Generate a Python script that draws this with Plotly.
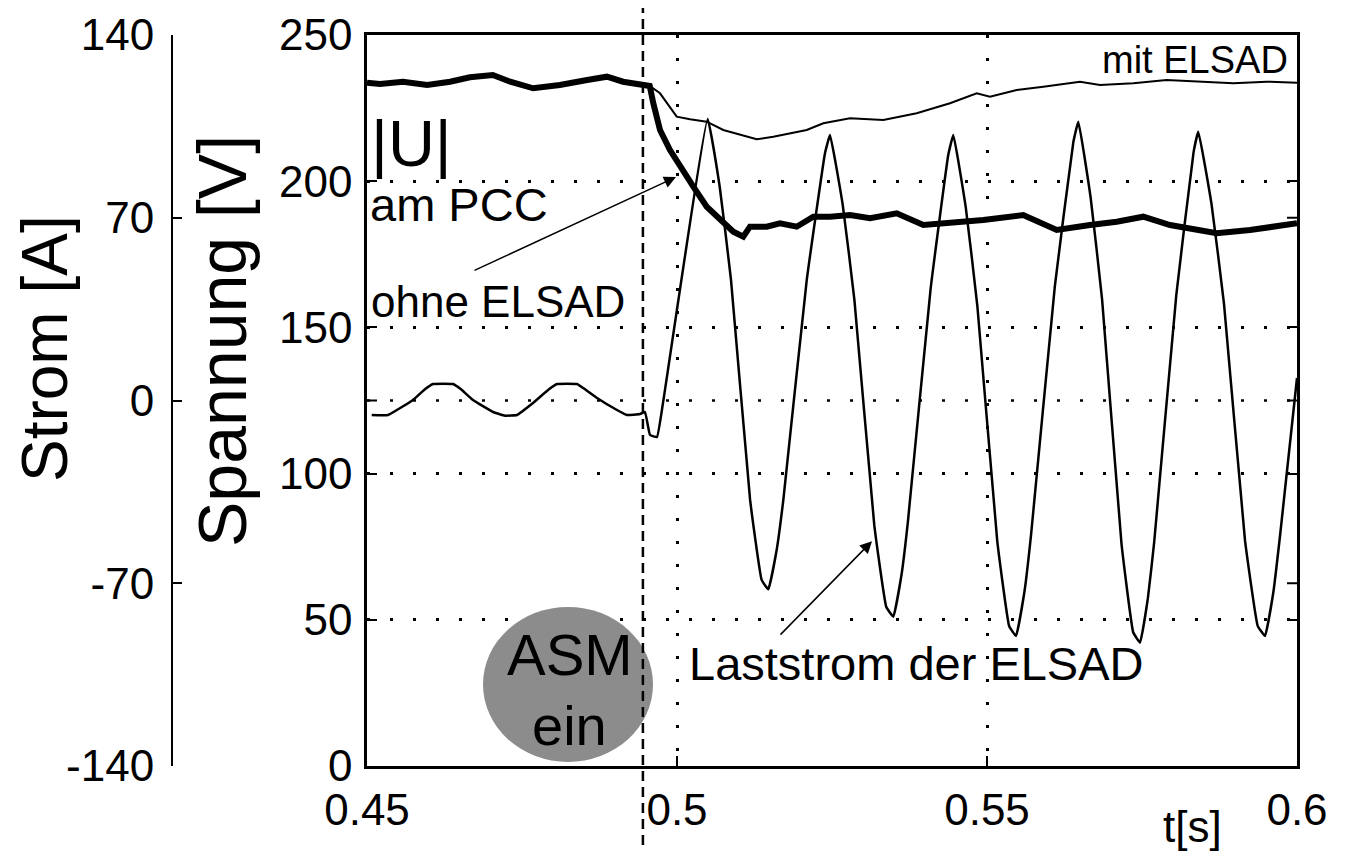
import plotly.graph_objects as go

# ---------------- data ----------------
# Load current of the ELSAD (A), left "Strom" axis
t_current = [0.45076, 0.45339, 0.45742, 0.45935, 0.46065, 0.46387, 0.46516, 0.46710, 0.47032, 0.47226, 0.47419,
             0.47677, 0.47935, 0.48065, 0.48387, 0.48516, 0.48710, 0.49032, 0.49194, 0.49403, 0.49484, 0.49565,
             0.49677, 0.49774,
             0.50495, 0.50690, 0.50871, 0.51179, 0.51365, 0.51473,
             0.51608, 0.51715, 0.52092, 0.52387, 0.52468,
             0.52673, 0.52861, 0.53182, 0.53376, 0.53489,
             0.53621, 0.53724, 0.54090, 0.54377, 0.54457,
             0.54658, 0.54845, 0.55165, 0.55357, 0.55468,
             0.55605, 0.55711, 0.56094, 0.56392, 0.56473,
             0.56671, 0.56857, 0.57169, 0.57358, 0.57468,
             0.57595, 0.57697, 0.58053, 0.58332, 0.58408,
             0.58623, 0.58823, 0.59161, 0.59366, 0.59484,
             0.59619, 0.59726, 0.60000]
i_current = [-5.55, -5.55, 0.19, 4.3, 6.32, 6.32, 4.3, 0.19, -4.40, -5.82, -5.55,
             -0.96, 4.3, 6.32, 6.32, 4.3, 0.96, -3.64, -5.55, -5.17, -4.40, -13.21,
             -13.98, -0.96,
             107.81, 81.69, 46.23, -38.07, -68.71, -72.31,
             -57.18, -38.03, 46.00, 94.71, 101.69,
             74.95, 38.61, -47.76, -79.13, -82.80,
             -66.76, -46.46, 42.67, 94.29, 101.69,
             73.88, 36.08, -53.73, -86.37, -90.20,
             -73.08, -51.40, 43.74, 98.89, 106.78,
             77.86, 38.53, -54.85, -88.78, -92.76,
             -75.72, -54.19, 40.33, 95.14, 102.95,
             74.95, 36.88, -53.50, -86.33, -90.20,
             -73.34, -51.90, 8.62]

# Voltage |U| at PCC before switching (common to both cases)
t_pre = [0.4500, 0.4521, 0.4558, 0.4597, 0.4634, 0.4666, 0.4703, 0.4731, 0.4768,
         0.4811, 0.4855, 0.4887, 0.4913, 0.4945, 0.4956]
u_pre = [233.69, 233.24, 234.03, 232.90, 234.03, 235.53, 236.32, 234.03, 231.77,
         232.90, 234.61, 235.74, 234.03, 232.90, 232.56]

# with ELSAD (thin)
t_mit = [0.49726, 0.49887, 0.49995, 0.50210, 0.50479, 0.50747, 0.51016, 0.51285, 0.51553,
         0.51823, 0.52092, 0.52360, 0.52790, 0.53327, 0.53866, 0.54403, 0.54834, 0.55048,
         0.55479, 0.55908, 0.56500, 0.56823, 0.57360, 0.57898, 0.58435, 0.58973, 0.59511, 0.60000]
u_mit = [230.06, 225.48, 222.06, 221.17, 220.35, 217.51, 215.80, 214.33, 215.22,
         216.38, 217.51, 219.80, 221.51, 220.93, 223.22, 226.64, 230.06, 228.90,
         231.19, 232.32, 234.03, 232.90, 233.48, 234.61, 234.03, 233.48, 234.03, 233.69]

# without ELSAD (thick)
t_ohne = [0.49618, 0.49726, 0.49887, 0.50048, 0.50263, 0.50479, 0.50694, 0.50908, 0.51069,
          0.51177, 0.51447, 0.51661, 0.51931, 0.52198, 0.52468, 0.52790, 0.53113, 0.53544,
          0.53973, 0.54403, 0.54940, 0.55585, 0.56124, 0.56661, 0.57092, 0.57521, 0.57952,
          0.58705, 0.59242, 0.60000]
u_ohne = [226.64, 217.51, 210.67, 204.96, 198.12, 191.28, 186.73, 182.73, 181.02,
          184.44, 184.44, 185.60, 184.44, 187.86, 187.86, 188.44, 187.31, 189.02,
          185.02, 185.60, 186.73, 188.44, 183.31, 185.02, 186.15, 187.86, 185.02,
          182.18, 183.31, 185.60]

x_ticks = [0.45, 0.5, 0.55, 0.6]
x_ticktext = ["0.45", "0.5", "0.55", "0.6"]
u_ticks = [0, 50, 100, 150, 200, 250]
i_ticks = [-140, -70, 0, 70, 140]
i_ticktext = ["-140", "-70", "0", "70", "140"]
t_switch = 0.4945

# ---------------- figure ----------------
FONT = "Liberation Sans, Arial, Helvetica, sans-serif"
W, H = 1347, 861
OFF = 8  # page body margin in the browser
ML, MR, MT, MB = 12, 58, 27, 103
PW = W - ML - MR
PH = H - MT - MB

def px_to_paper_x(px):
    return (px - OFF - ML) / PW

def px_to_paper_y(py):
    return 1 - (py - OFF - MT) / PH

X0 = px_to_paper_x(367)

fig = go.Figure()

fig.add_trace(go.Scatter(x=t_current, y=i_current, yaxis="y2", mode="lines",
                         line=dict(color="black", width=2.5, shape="spline", smoothing=0.3),
                         showlegend=False))
fig.add_trace(go.Scatter(x=t_pre + t_mit, y=u_pre + u_mit, mode="lines",
                         line=dict(color="black", width=2), showlegend=False))
fig.add_trace(go.Scatter(x=t_pre + t_ohne, y=u_pre + u_ohne, mode="lines",
                         line=dict(color="black", width=6), showlegend=False))

grid_dash = "3px,20px"

fig.update_layout(
    width=W, height=H,
    margin=dict(l=ML, r=MR, t=MT, b=MB, autoexpand=False),
    paper_bgcolor="white", plot_bgcolor="white",
    font=dict(family=FONT, color="black"),
    xaxis=dict(domain=[X0, 1], range=[0.45, 0.6], automargin=False,
               tickvals=x_ticks, ticktext=x_ticktext, ticks="inside", ticklen=10,
               tickwidth=2, tickcolor="black", showline=True, linewidth=2.5,
               linecolor="black", mirror=True, showgrid=True, gridcolor="black",
               gridwidth=2.5, griddash=grid_dash, zeroline=False,
               tickfont=dict(size=44, family=FONT), ticklabelstandoff=3),
    yaxis=dict(range=[0, 250], tickvals=u_ticks, ticks="inside", ticklen=10, automargin=False,
               tickwidth=2, tickcolor="black", showline=True, linewidth=2.5,
               linecolor="black", mirror="ticks", showgrid=True, gridcolor="black",
               gridwidth=2.5, griddash=grid_dash, zeroline=False,
               tickfont=dict(size=44, family=FONT), ticklabelstandoff=3),
    yaxis2=dict(range=[-140, 140], tickvals=i_ticks, ticktext=i_ticktext, overlaying="y",
                anchor="free", automargin=False,
                side="left", position=px_to_paper_x(172), ticks="inside", ticklen=9,
                tickwidth=2, tickcolor="black", showline=True, linewidth=2,
                linecolor="black", showgrid=False, zeroline=False,
                tickfont=dict(size=44, family=FONT), ticklabelstandoff=8),
)

tick_w = 10 / PW
shapes = [
    # ASM switch-on marker (grey disc)
    dict(type="circle", xref="x", yref="y",
         x0=0.46871, x1=0.49613, y0=1.4, y1=54.4,
         fillcolor="#8c8c8c", line=dict(width=0), layer="above"),
    # switching instant
    dict(type="line", xref="x", yref="paper", x0=t_switch, x1=t_switch,
         y0=px_to_paper_y(845), y1=px_to_paper_y(8), line=dict(color="black", width=2.5, dash="10px,6px"),
         layer="above"),
    # zero-current dotted line
    dict(type="line", xref="x", yref="y2", x0=0.45, x1=0.6, y0=0, y1=0,
         line=dict(color="black", width=2.5, dash=grid_dash), layer="below"),
    # current-axis ticks mirrored on the plot frame
    dict(type="line", xref="paper", yref="y2", x0=X0, x1=X0 + tick_w, y0=0, y1=0,
         line=dict(color="black", width=2)),
]
for v in [-70, 0, 70]:
    shapes.append(dict(type="line", xref="paper", yref="y2", x0=1 - tick_w, x1=1, y0=v, y1=v,
                       line=dict(color="black", width=2)))
fig.update_layout(shapes=shapes)

ann = []
# axis titles
ann.append(dict(text="Strom [A]", xref="paper", yref="paper",
                x=px_to_paper_x(45), y=px_to_paper_y(349), textangle=-90,
                showarrow=False, font=dict(size=64, family=FONT),
                xanchor="center", yanchor="middle"))
ann.append(dict(text="Spannung [V]", xref="paper", yref="paper",
                x=px_to_paper_x(222), y=px_to_paper_y(341), textangle=-90,
                showarrow=False, font=dict(size=68, family=FONT),
                xanchor="center", yanchor="middle"))
ann.append(dict(text="t[s]", xref="paper", yref="paper",
                x=px_to_paper_x(1192), y=px_to_paper_y(826),
                showarrow=False, font=dict(size=44, family=FONT),
                xanchor="center", yanchor="middle"))
# in-plot labels
ann.append(dict(text="mit ELSAD", xref="x", yref="y", x=0.59887, y=241.4,
                showarrow=False, font=dict(size=38, family=FONT),
                xanchor="right", yanchor="middle"))
ann.append(dict(text="|U|", xref="x", yref="y", x=0.4503, y=213.0,
                showarrow=False, font=dict(size=65, family=FONT),
                xanchor="left", yanchor="middle"))
ann.append(dict(text="am PCC", xref="x", yref="y", x=0.4502, y=192.0,
                showarrow=False, font=dict(size=47, family=FONT),
                xanchor="left", yanchor="middle"))
ann.append(dict(text="ohne ELSAD", xref="x", yref="y", x=0.4503, y=159.0,
                showarrow=False, font=dict(size=44, family=FONT),
                xanchor="left", yanchor="middle"))
ann.append(dict(text="Laststrom der ELSAD", xref="x", yref="y", x=0.5016, y=35.2,
                showarrow=False, font=dict(size=47, family=FONT),
                xanchor="left", yanchor="middle"))
ann.append(dict(text="ASM", xref="x", yref="y", x=0.48274, y=38.0,
                showarrow=False, font=dict(size=58, family=FONT),
                xanchor="center", yanchor="middle"))
ann.append(dict(text="ein", xref="x", yref="y", x=0.48258, y=14.0,
                showarrow=False, font=dict(size=56, family=FONT),
                xanchor="center", yanchor="middle"))
# arrows
ann.append(dict(text="", xref="x", yref="y", x=0.49984, y=201.4, ax=-203, ay=94,
                showarrow=True, arrowhead=2, arrowsize=1.6, arrowwidth=1.5,
                arrowcolor="black"))
ann.append(dict(text="", xref="x", yref="y", x=0.53145, y=76.9, ax=-93, ay=95,
                showarrow=True, arrowhead=2, arrowsize=1.6, arrowwidth=1.5,
                arrowcolor="black"))
fig.update_layout(annotations=ann)

fig.write_html("out.html")
